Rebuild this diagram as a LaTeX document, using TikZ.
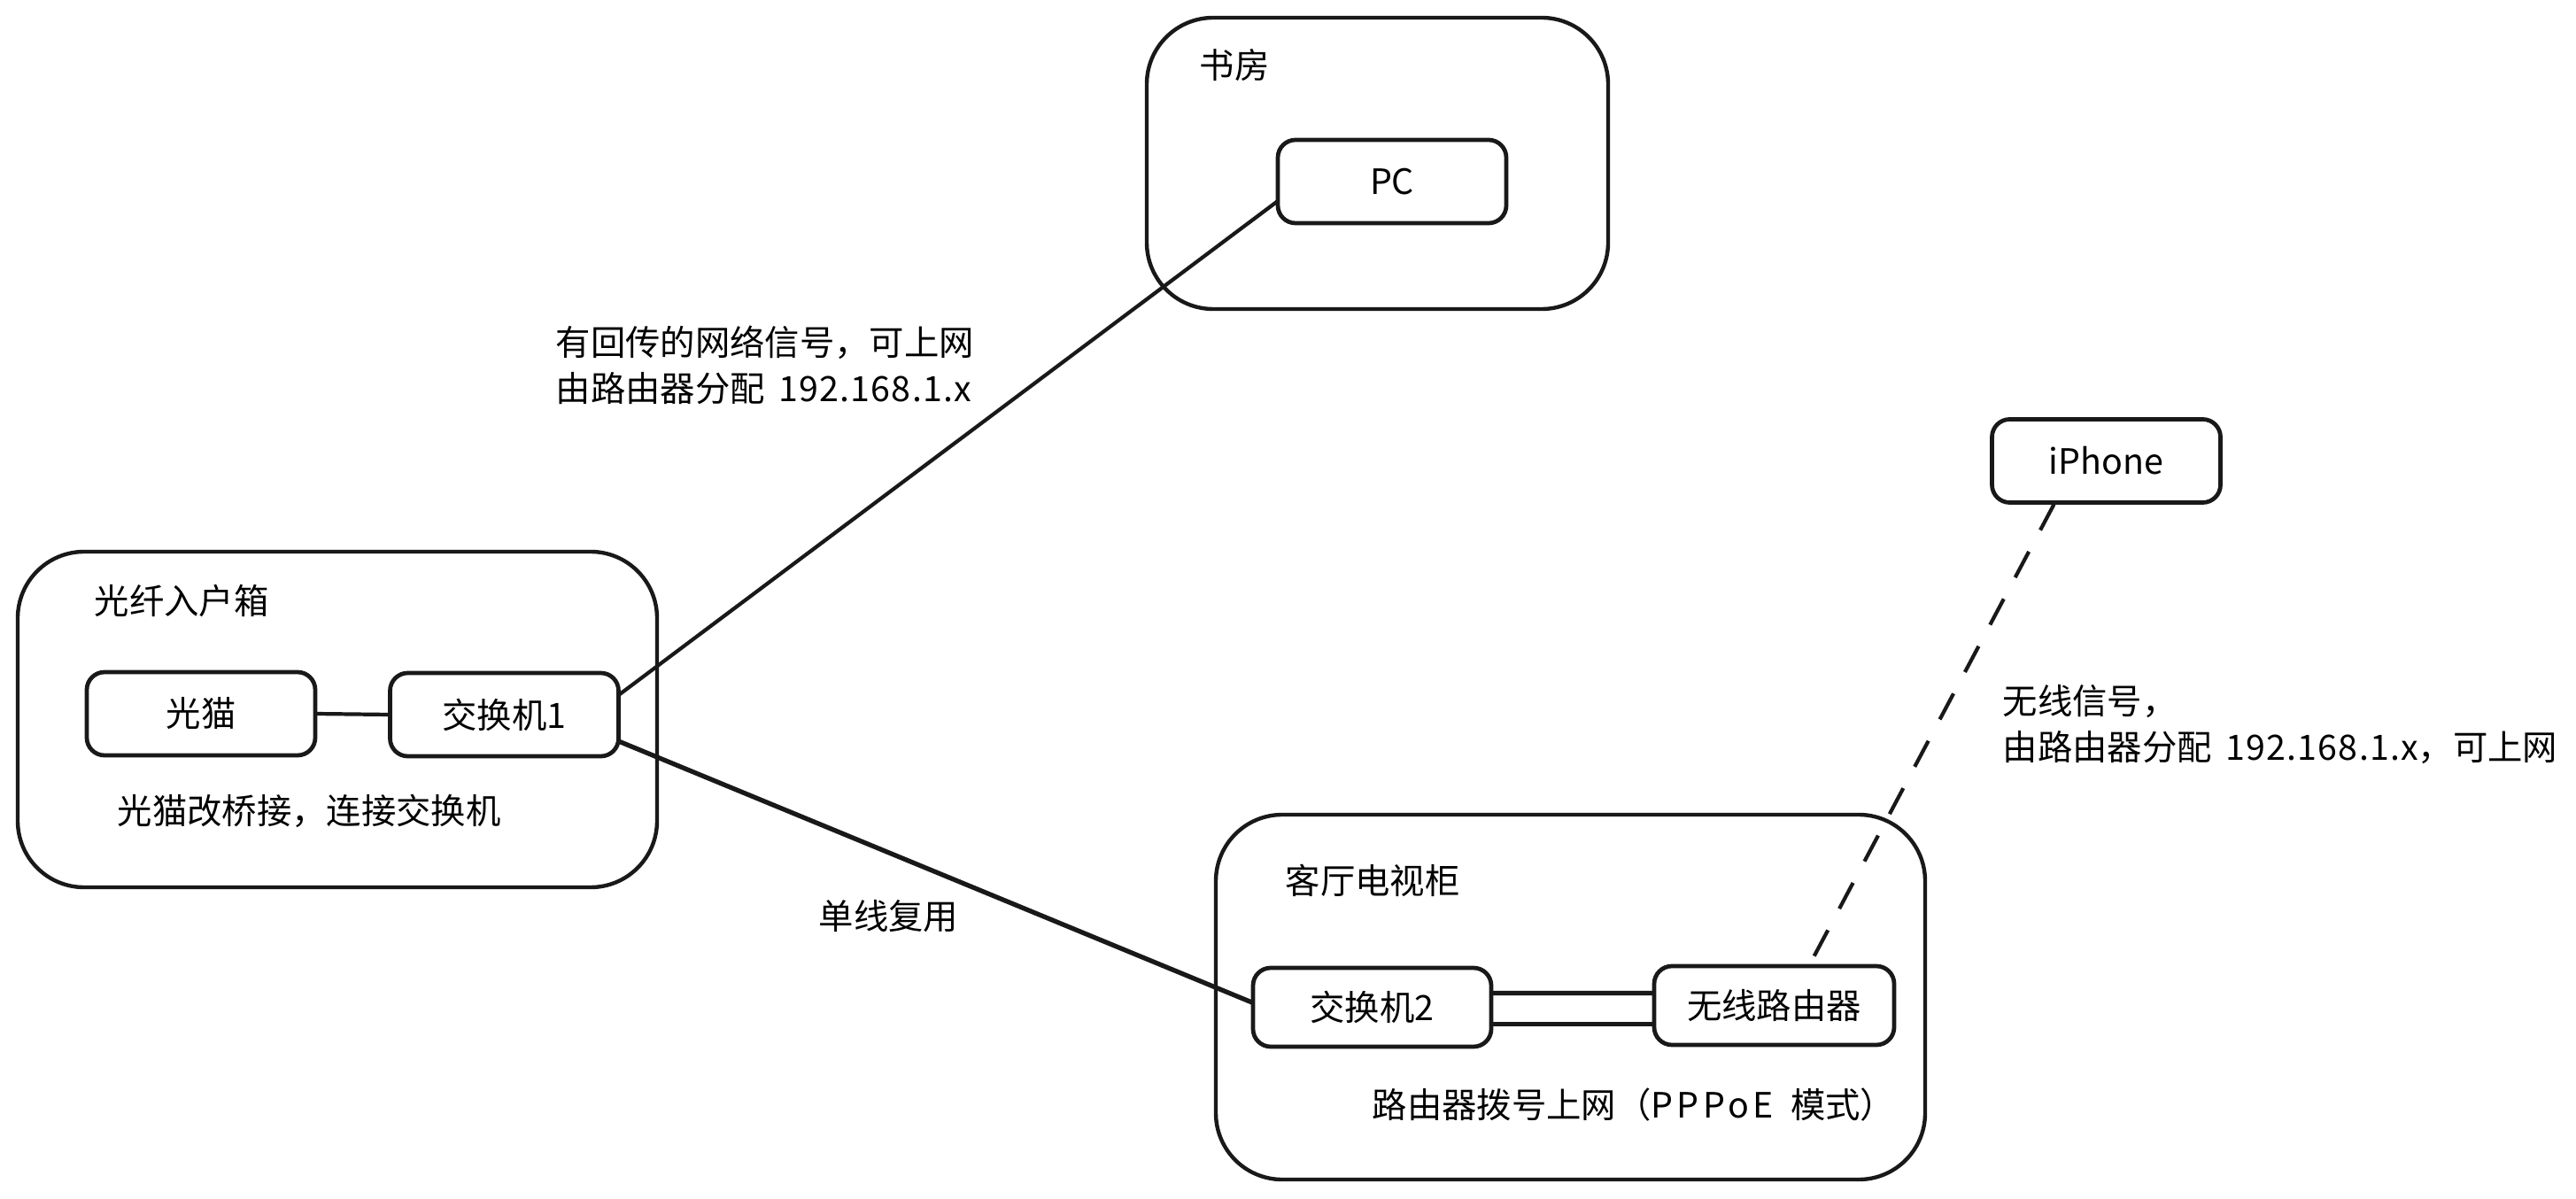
\documentclass[tikz,border=0pt]{standalone}
\usepackage{fontspec}
\setmainfont{Noto Sans CJK SC}
\newcommand{\ipnet}{\hspace{2pt}{\addfontfeature{LetterSpace=3}192.168.1.x}}
\tikzset{
	bigbox/.style={draw=black!90, line width=1.25pt, rounded corners=0.75cm, outer sep=0pt},
	smallbox/.style={draw=black!90, line width=1.35pt, rounded corners=0.2cm, outer sep=0pt,
		minimum width=2.58cm, minimum height=0.94cm, font=\fontsize{11.2}{14.8}\selectfont},
	lbl/.style={anchor=west, inner sep=0pt, align=left, font=\fontsize{11.2}{14.8}\selectfont},
	link/.style={draw=black!90, line width=1.2pt},
}
\begin{document}
\begin{tikzpicture}
	\useasboundingbox (0, 0) rectangle (29.09, 13.53);
	% Bereiche
	\node[bigbox, minimum width=7.22cm, minimum height=3.79cm] (fibrebox) at (3.81, 5.405) {};
	\node[bigbox, minimum width=5.21cm, minimum height=3.29cm] (studybox) at (15.555, 11.685) {};
	\node[bigbox, minimum width=8.01cm, minimum height=4.12cm] (tvbox) at (17.735, 2.27) {};
	% Geraete
	\node[smallbox] (modem) at (2.27, 5.47) {光猫};
	\node[smallbox] (switchone) at (5.695, 5.46) {交换机1};
	\node[smallbox] (pc) at (15.72, 11.48) {PC};
	\node[smallbox] (iphone) at (23.785, 8.325) {iPhone};
	\node[smallbox, minimum width=2.69cm, minimum height=0.89cm] (switchtwo) at (15.495, 2.155) {交换机2};
	\node[smallbox, minimum width=2.71cm, minimum height=0.89cm] (router) at (20.035, 2.175) {无线路由器};
	% Beschriftungen
	\node[lbl] (fibrelabel) at (1.06, 6.74) {光纤入户箱};
	\node[lbl] (bridgelabel) at (1.32, 4.37) {光猫改桥接，连接交换机};
	\node[lbl] (studylabel) at (13.54, 12.79) {书房};
	\node[lbl] (backhaullabel) at (6.27, 9.41) {有回传的网络信号，可上网\\由路由器分配 \ipnet};
	\node[lbl] (wifilabel) at (22.61, 5.35) {无线信号，\\由路由器分配 \ipnet，可上网};
	\node[lbl] (tvlabel) at (14.51, 3.59) {客厅电视柜};
	\node[lbl] (pppoelabel) at (15.49, 1.05) {路由器拨号上网（{\addfontfeature{LetterSpace=11}PPPoE}\hspace{3pt} 模式）};
	\node[lbl] (singlelabel) at (9.24, 3.18) {单线复用};
	% Verbindungen
	\draw[link] (modem.east) -- (switchone.west);
	\draw[link] ([yshift=0.22cm]switchone.east) -- ([yshift=-0.22cm]pc.west);
	\draw[link, line width=1.5pt] ([yshift=-0.3cm]switchone.east) -- ([yshift=0.05cm]switchtwo.west);
	\draw[link, line width=1.5pt] ([yshift=0.16cm]switchtwo.east) -- ([yshift=0.14cm]router.west);
	\draw[link, line width=1.5pt] ([yshift=-0.19cm]switchtwo.east) -- ([yshift=-0.21cm]router.west);
	\draw[link, dash pattern=on 0.33cm off 0.275cm] ([xshift=-0.59cm, yshift=-0.02cm]iphone.south) -- ([xshift=0.45cm, yshift=0.11cm]router.north);
\end{tikzpicture}
\end{document}
